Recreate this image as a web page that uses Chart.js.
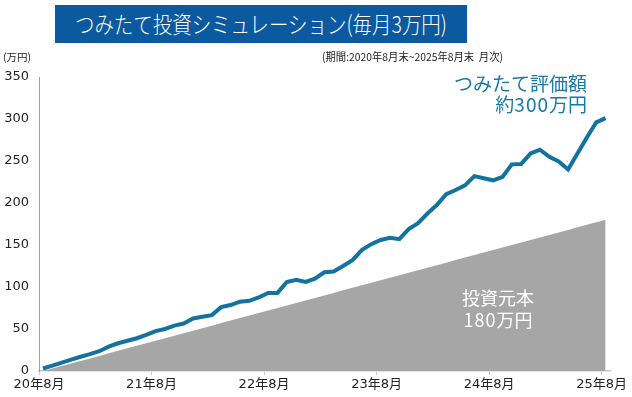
<!DOCTYPE html>
<html lang="ja">
<head>
<meta charset="utf-8">
<script src="https://cdn.jsdelivr.net/npm/chart.js@4.4.1/dist/chart.umd.min.js"></script>
<style>
  html, body { margin: 0; padding: 0; background: #fff; }
  #wrap { position: relative; width: 632px; height: 397px; overflow: hidden; font-family: "Noto Sans CJK JP", sans-serif; }
  #chart { position: absolute; left: 0; top: 0; }
  .title { position: absolute; left: 55px; top: 5px; width: 412px; height: 38px; background: #0b5aa0; color: #fff;
    font-size: 23px; font-weight: 300; line-height: 37px; display: flex; justify-content: center; white-space: nowrap; }
  .title span { display: inline-block; flex: none; transform-origin: center; }
  .sub { position: absolute; left: 322px; top: 48px; font-size: 11px; color: #222; white-space: nowrap; transform-origin: left; }
  .unit { position: absolute; left: 3px; top: 49px; font-size: 10.5px; color: #222; white-space: nowrap; }
  .note { position: absolute; white-space: nowrap; }
  .note.val { right: 45px; top: 72px; text-align: right; color: #1878a6; font-size: 19px; line-height: 21px; }
  .note.pri { left: 445px; top: 286px; width: 106px; text-align: center; color: #fff; font-size: 18px; line-height: 22px; }
  .wide { letter-spacing: 1px; }
</style>
</head>
<body>
<div id="wrap">
  <canvas id="chart" width="632" height="397"></canvas>
  <div class="title"><span data-fit="372">つみたて投資シミュレーション(毎月3万円)</span></div>
  <div class="unit">(万円)</div>
  <div class="sub" data-fit="181">(期間:2020年8月末~2025年8月末&nbsp;&nbsp;月次)</div>
  <div class="note val">つみたて評価額<br>約<span class="wide">300</span>万円</div>
  <div class="note pri">投資元本<br><span class="wide">180</span>万円</div>
</div>
<script>
  // x tick labels (month index from 2020/8)
  const tickMonths = [0, 12, 24, 36, 48, 60];
  const tickLabels = ['20年8月', '21年8月', '22年8月', '23年8月', '24年8月', '25年8月'];

  // 投資元本 (万円), monthly
  const principal = [0, 3, 6, 9, 12, 15, 18, 21, 24, 27, 30, 33, 36, 39, 42, 45, 48, 51, 54, 57,
    60, 63, 66, 69, 72, 75, 78, 81, 84, 87, 90, 93, 96, 99, 102, 105, 108, 111, 114, 117,
    120, 123, 126, 129, 132, 135, 138, 141, 144, 147, 150, 153, 156, 159, 162, 165, 168, 171, 174, 177, 180];

  // つみたて評価額 (万円), monthly
  const valuation = [3, 6.3, 10, 13.5, 17, 20, 23.5, 29, 33, 36, 39, 43, 47.5, 50, 54, 56.5, 62.5, 64.5, 66.5, 76,
    78.5, 82.5, 83.5, 87.5, 93, 93, 106, 108.5, 106, 110, 117.5, 118.5, 125, 132, 144, 151, 156, 158.5, 157, 169,
    176, 187.5, 197.5, 210.5, 215.5, 221, 232, 229.5, 227, 231, 246, 246.5, 259, 263.5, 255, 249.5, 240, 259, 278, 296, 301];

  // squeeze text blocks to the width they have in the original
  document.querySelectorAll('[data-fit]').forEach(el => {
    const w = el.getBoundingClientRect().width;
    if (w > 0) el.style.transform = `scaleX(${el.dataset.fit / w})`;
  });

  // points sit at month end, a bit right of the tick
  const SHIFT = 0.43;
  const toXY = arr => arr.map((v, i) => ({ x: i + SHIFT, y: v }));

  const FONT = '"DejaVu Sans", "Noto Sans CJK JP", sans-serif';

  new Chart(document.getElementById('chart').getContext('2d'), {
    type: 'line',
    data: {
      datasets: [
        {
          label: 'つみたて評価額',
          data: toXY(valuation),
          borderColor: '#12739e',
          borderWidth: 4,
          pointRadius: 0,
          tension: 0,
          fill: false,
          order: 0
        },
        {
          label: '投資元本',
          data: toXY(principal),
          borderWidth: 0,
          borderColor: 'rgba(0,0,0,0)',
          backgroundColor: '#a6a6a6',
          pointRadius: 0,
          fill: 'origin',
          order: 1
        }
      ]
    },
    options: {
      responsive: false,
      devicePixelRatio: 1,
      animation: false,
      layout: { padding: { top: 77, right: 22, left: 0, bottom: 0 } },
      plugins: { legend: { display: false }, tooltip: { enabled: false } },
      scales: {
        x: {
          type: 'linear',
          min: 0,
          max: 60.9,
          afterBuildTicks: s => { s.ticks = tickMonths.map(v => ({ value: v })); },
          afterFit: s => { s.height = 26; },
          grid: { display: true, drawOnChartArea: false, drawTicks: true, tickLength: 4, color: '#c8c8c8' },
          border: { display: true, color: '#c8c8c8', width: 1.5 },
          ticks: {
            autoSkip: false,
            maxRotation: 0,
            padding: 2,
            color: '#222',
            font: { family: FONT, size: 13 },
            callback: v => tickLabels[tickMonths.indexOf(v)]
          }
        },
        y: {
          min: 0,
          max: 350,
          afterFit: s => { s.width = 39; },
          grid: { display: false, drawTicks: false },
          border: { display: true, color: '#a0a0a0', width: 1 },
          ticks: {
            stepSize: 50,
            padding: 10,
            color: '#222',
            font: { family: FONT, size: 13 }
          }
        }
      }
    }
  });
</script>
</body>
</html>
